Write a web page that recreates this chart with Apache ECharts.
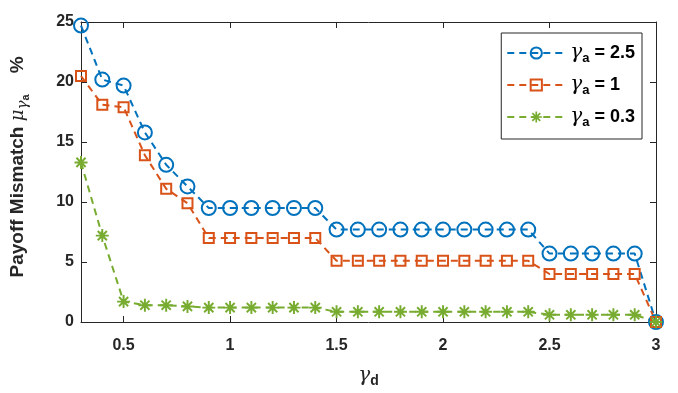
<!DOCTYPE html>
<html><head><meta charset="utf-8">
<script src="https://cdn.jsdelivr.net/npm/echarts@6/dist/echarts.min.js"></script>
<style>html,body{margin:0;padding:0;background:#fff}#c{width:678px;height:393px}</style>
</head><body><div id="c"></div>
<script>
const gammaD = [0.3,0.4,0.5,0.6,0.7,0.8,0.9,1.0,1.1,1.2,1.3,1.4,1.5,1.6,1.7,1.8,1.9,2.0,2.1,2.2,2.3,2.4,2.5,2.6,2.7,2.8,2.9,3.0];
const mismatch25 = [24.7,20.2,19.7,15.8,13.1,11.3,9.5,9.5,9.5,9.5,9.5,9.5,7.7,7.7,7.7,7.7,7.7,7.7,7.7,7.7,7.7,7.7,5.7,5.7,5.7,5.7,5.7,0];
const mismatch1 = [20.5,18.1,17.9,13.9,11.1,9.9,7.0,7.0,7.0,7.0,7.0,7.0,5.1,5.1,5.1,5.1,5.1,5.1,5.1,5.1,5.1,5.1,4.0,4.0,4.0,4.0,4.0,0];
const mismatch03 = [13.3,7.2,1.7,1.4,1.4,1.3,1.2,1.2,1.2,1.2,1.2,1.2,0.85,0.85,0.85,0.85,0.85,0.85,0.85,0.85,0.85,0.85,0.6,0.6,0.6,0.6,0.6,0];
const xTicks = [0.5,1,1.5,2,2.5,3];
const seriesNames = ['2.5','1','0.3'];

const axisColor = '#262626';
const sans = 'Liberation Sans, Arial, sans-serif';
const serif = 'DejaVu Serif, Liberation Serif, serif';
const asterisk = 'path://M-10,-1.5L10,-1.5L10,1.5L-10,1.5Z M-1.5,-10L1.5,-10L1.5,10L-1.5,10Z M-6.01,-8.13L8.13,6.01L6.01,8.13L-8.13,-6.01Z M8.13,-6.01L-6.01,8.13L-8.13,6.01L6.01,-8.13Z';

function pairs(ys){ return gammaD.map((x,i)=>[x,ys[i]]); }

const dash = [7,5];
function mk(name, ys, color, symbol, size, filled){
  return {
    name: name, type: 'line', data: pairs(ys),
    symbol: symbol, symbolSize: size,
    lineStyle: {color: color, width: 2, type: dash},
    itemStyle: filled ? {color: color, borderWidth: 0} : {color: 'rgba(255,255,255,0)', borderColor: color, borderWidth: 2},
    emphasis: {disabled: true},
    animation: false
  };
}

const chart = echarts.init(document.getElementById('c'));
chart.setOption({
  backgroundColor: '#fff',
  animation: false,
  grid: {left: 81, right: 22, top: 22, bottom: 71, containLabel: false, outerBoundsMode: 'none'},
  legend: {
    orient: 'vertical', right: 36, top: 33,
    backgroundColor: '#fff', borderColor: axisColor, borderWidth: 1,
    padding: [10, 7, 10, 5],
    itemWidth: 58, itemHeight: 14, itemGap: 10,
    data: seriesNames,
    formatter: n => '{g|γ}{a|a}{t| = ' + n + '}',
    textStyle: {
      rich: {
        g: {fontFamily: serif, fontStyle: 'italic', fontSize: 20, lineHeight: 24, color: '#000'},
        a: {fontFamily: sans, fontWeight: 'bold', fontSize: 13, lineHeight: 12, verticalAlign: 'bottom', color: '#000'},
        t: {fontFamily: sans, fontWeight: 'bold', fontSize: 18, lineHeight: 24, color: '#000'}
      }
    }
  },
  xAxis: [{
    type: 'value', min: 0.3, max: 3, position: 'bottom',
    axisLine: {show: true, onZero: false, lineStyle: {color: axisColor}},
    axisTick: {show: true, inside: true, length: 6, customValues: xTicks, lineStyle: {color: axisColor}},
    axisLabel: {customValues: xTicks, color: axisColor, fontFamily: sans, fontWeight: 'bold', fontSize: 16, margin: 16},
    splitLine: {show: false},
    name: '{g|γ}{d|d}', nameLocation: 'middle', nameGap: 42,
    nameTextStyle: {rich: {
      g: {fontFamily: serif, fontStyle: 'italic', fontSize: 20, lineHeight: 24, color: axisColor},
      d: {fontFamily: sans, fontWeight: 'bold', fontSize: 14, lineHeight: 12, verticalAlign: 'bottom', color: axisColor}
    }}
  },{
    type: 'value', min: 0.3, max: 3, position: 'top',
    axisLine: {show: true, onZero: false, lineStyle: {color: axisColor}},
    axisTick: {show: true, inside: true, length: 6, customValues: xTicks, lineStyle: {color: axisColor}},
    axisLabel: {show: false}, splitLine: {show: false}
  }],
  yAxis: [{
    type: 'value', min: 0, max: 25, interval: 5, position: 'left',
    axisLine: {show: true, onZero: false, lineStyle: {color: axisColor}},
    axisTick: {show: true, inside: true, length: 6, lineStyle: {color: axisColor}},
    axisLabel: {color: axisColor, fontFamily: sans, fontWeight: 'bold', fontSize: 16, margin: 7},
    splitLine: {show: false},
    name: '{sp|}{b|Payoff Mismatch }{mu|μ}{s1|γ}{s2|a}{b|    %}', nameLocation: 'middle', nameGap: 50,
    nameTextStyle: {rich: {
      sp: {width: 10, fontSize: 19, lineHeight: 26},
      b: {fontFamily: sans, fontWeight: 'bold', fontSize: 19, lineHeight: 26, color: axisColor},
      mu: {fontFamily: serif, fontStyle: 'italic', fontSize: 18, lineHeight: 26, color: axisColor},
      s1: {fontFamily: serif, fontStyle: 'italic', fontSize: 15, lineHeight: 16, verticalAlign: 'bottom', color: axisColor},
      s2: {fontFamily: sans, fontWeight: 'bold', fontSize: 11, lineHeight: 6, verticalAlign: 'bottom', color: axisColor}
    }}
  },{
    type: 'value', min: 0, max: 25, interval: 5, position: 'right',
    axisLine: {show: true, onZero: false, lineStyle: {color: axisColor}},
    axisTick: {show: true, inside: true, length: 6, lineStyle: {color: axisColor}},
    axisLabel: {show: false}, splitLine: {show: false}
  }],
  series: [
    mk(seriesNames[0], mismatch25, '#0072BD', 'circle', 14, false),
    mk(seriesNames[1], mismatch1, '#D95319', 'rect', 10, false),
    mk(seriesNames[2], mismatch03, '#77AC30', asterisk, 13, true)
  ]
});
</script></body></html>
